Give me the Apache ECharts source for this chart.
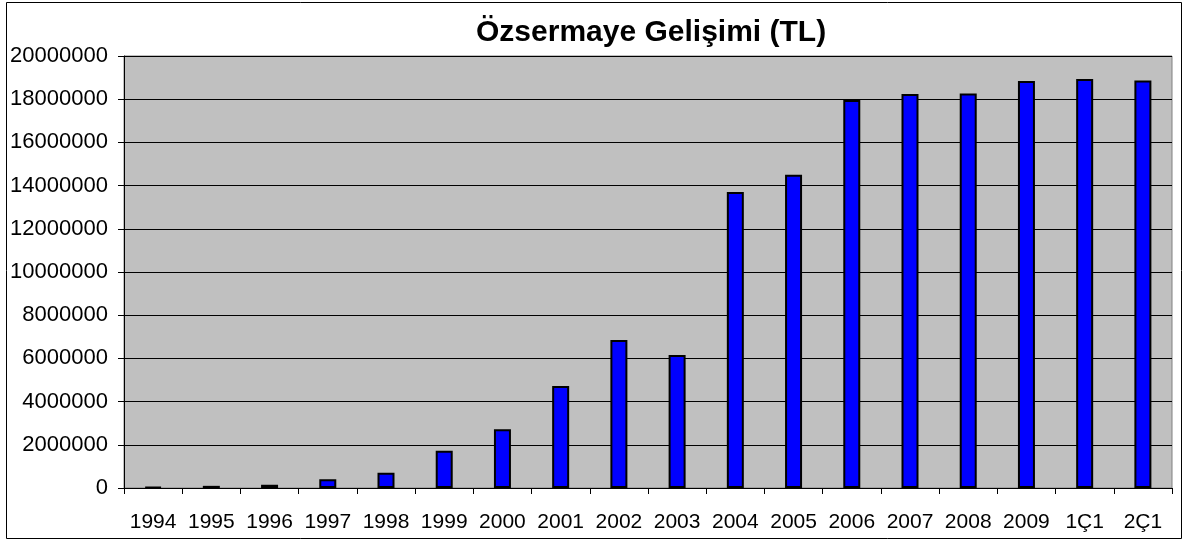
<!DOCTYPE html>
<html>
<head>
<meta charset="utf-8">
<script src="https://cdn.jsdelivr.net/npm/echarts@6/dist/echarts.min.js"></script>
<style>
  html, body { margin: 0; padding: 0; background: #fff; }
  #chart { width: 1188px; height: 545px; }
</style>
</head>
<body>
<div id="chart"></div>
<script>
// categories and values
const categories = ['1994', '1995', '1996', '1997', '1998', '1999', '2000', '2001', '2002',
  '2003', '2004', '2005', '2006', '2007', '2008', '2009', '1Ç1', '2Ç1'];
const equity = [50000, 100000, 150000, 400000, 710000, 1730000, 2720000, 4720000, 6850000,
  6160000, 13700000, 14500000, 17960000, 18240000, 18260000, 18840000, 18940000, 18870000];

const chart = echarts.init(document.getElementById('chart'));

const option = {
  animation: false,
  textStyle: { fontFamily: 'Liberation Sans, Arial, sans-serif' },
  title: {
    text: 'Özsermaye Gelişimi (TL)',
    left: 471,
    top: 13,
    textStyle: { fontSize: 30, fontWeight: 'bold', color: '#000' }
  },
  graphic: [{
    type: 'rect',
    shape: { x: 6.5, y: 2.5, width: 1175, height: 536 },
    style: { fill: 'none', stroke: '#000', lineWidth: 1 },
    silent: true
  }],
  grid: {
    left: 124,
    right: 16,
    top: 56,
    bottom: 57,
    show: true,
    backgroundColor: '#C0C0C0',
    borderColor: '#808080',
    borderWidth: 1
  },
  xAxis: {
    type: 'category',
    data: categories,
    axisLine: { lineStyle: { color: '#000', width: 1 } },
    axisTick: { show: true, interval: 0, alignWithLabel: false, length: 6, lineStyle: { color: '#000' } },
    axisLabel: { color: '#000', fontSize: 21, margin: 24, interval: 0 }
  },
  yAxis: {
    type: 'value',
    min: 0,
    max: 20000000,
    interval: 2000000,
    axisLine: { show: true, lineStyle: { color: '#000', width: 1 } },
    axisTick: { show: true, length: 6, lineStyle: { color: '#000' } },
    axisLabel: { color: '#000', fontSize: 22, margin: 16, formatter: (v) => String(v) },
    splitLine: { show: true, lineStyle: { color: '#000', width: 1 } }
  },
  series: [{
    type: 'bar',
    data: equity,
    barWidth: 17,
    itemStyle: { color: '#0000FF', borderColor: '#000', borderWidth: 2 }
  }]
};

chart.setOption(option);
</script>
</body>
</html>
